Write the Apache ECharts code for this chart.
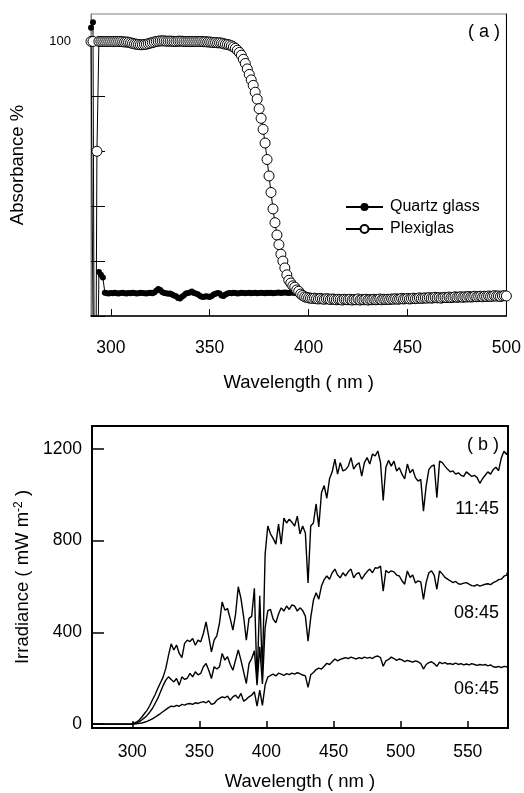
<!DOCTYPE html>
<html>
<head>
<meta charset="utf-8">
<script src="https://cdn.jsdelivr.net/npm/echarts@6.0.0/dist/echarts.min.js"></script>
<style>
  html, body { margin: 0; padding: 0; background: #fff; }
  #main { width: 524px; height: 793px; }
</style>
</head>
<body>
<div id="main"></div>
<script>
// panel (a): absorbance, 1 nm steps from 290 to 500
var wlA = [];
for (var w = 290; w <= 500; w++) wlA.push(w);

var quartz = [
  105, 107, -100, -100, 16, 15, 14, 8.5, 8.3, 8.2,
  8.4, 8.3, 8.5, 8.3, 8.2, 8.4, 8.5, 8.3, 8.2, 8.4,
  8.3, 8.5, 8.4, 8.2, 8.3, 8.5, 8.4, 8.3, 8.2, 8.4,
  8.5, 8.3, 8.6, 9.2, 9.8, 9.5, 8.7, 8.4, 8.3, 8.1,
  8.2, 7.8, 7.5, 7.2, 6.6, 6.4, 7.0, 7.6, 8.2, 8.4,
  8.6, 8.9, 8.4, 8.2, 7.9, 7.4, 7.0, 6.9, 7.2, 7.1,
  6.9, 7.3, 7.8, 8.1, 8.4, 8.2, 7.5, 7.3, 7.8, 8.2,
  8.4, 8.3, 8.5, 8.4, 8.2, 8.3, 8.5, 8.4, 8.3, 8.4,
  8.5, 8.3, 8.4, 8.5, 8.3, 8.4, 8.5, 8.4, 8.3, 8.5,
  8.4, 8.5, 8.3, 8.4, 8.5, 8.6, 8.4, 8.5, 8.6, 8.5,
  8.4, 8.5, 8.6, 8.4, 8.3, 8.2, 8.0, 7.6, 7.2, 7.0,
  6.8, 6.7, 6.5, 6.6, 6.4, 6.3, 6.5, 6.3, 6.2, 6.4,
  6.3, 6.1, 6.3, 6.2, 6.0, 6.2, 6.1, 5.9, 6.2, 6.1,
  6.0, 6.2, 5.9, 6.1, 6.0, 6.3, 5.9, 6.1, 6.0, 6.2,
  5.9, 6.1, 6.0, 6.2, 6.0, 6.1, 6.3, 6.0, 6.2, 6.1,
  6.2, 6.1, 6.3, 6.2, 6.4, 6.2, 6.3, 6.5, 6.3, 6.4,
  6.5, 6.3, 6.4, 6.6, 6.4, 6.5, 6.7, 6.5, 6.6, 6.7,
  6.6, 6.8, 6.6, 6.7, 6.9, 6.7, 6.8, 6.6, 6.8, 6.9,
  6.8, 7.0, 6.8, 6.9, 7.1, 6.9, 7.0, 7.1, 6.9, 7.1,
  7.0, 7.2, 7.0, 7.1, 7.3, 7.1, 7.2, 7.3, 7.1, 7.3,
  7.2, 7.4, 7.2, 7.3, 7.5, 7.3, 7.4, 7.2, 7.4, 7.5,
  7.4
];

var plexiglas = [
  100, 100, -100, 60, 100, 100, 100, 100, 100, 100,
  100, 100, 100, 100, 100, 100, 99.9, 99.8, 99.8, 99.7,
  99.5, 99.3, 99.1, 99, 98.9, 98.8, 98.8, 98.9, 99, 99.2,
  99.4, 99.6, 99.8, 100, 100.1, 100.2, 100.2, 100.2, 100.1, 100.1,
  100.1, 100.1, 100, 100, 100.1, 100.1, 100.1, 100, 100, 100,
  100, 100, 100, 100, 100, 100, 100, 99.9, 99.9, 99.8,
  99.8, 99.7, 99.6, 99.6, 99.5, 99.5, 99.4, 99.2, 99, 98.9,
  98.7, 98.4, 98, 97.5, 96.8, 96, 95, 93.5, 92, 90,
  88, 86, 84, 81.5, 79, 75.5, 72, 68, 63, 57,
  51, 45, 39, 34, 29.5, 26, 22.5, 20, 17.5, 15,
  13, 12, 11, 10.5, 9.5, 9, 8, 7.5, 7, 6.8,
  6.6, 6.5, 6.4, 6.5, 6.3, 6.2, 6.4, 6.2, 6.1, 6.3,
  6.2, 6.0, 6.2, 6.1, 5.9, 6.1, 6.0, 5.8, 6.1, 6.0,
  5.9, 6.1, 5.8, 6.0, 5.9, 6.2, 5.8, 6.0, 5.9, 6.1,
  5.8, 6.0, 5.9, 6.1, 5.9, 6.0, 6.2, 5.9, 6.1, 6.0,
  6.1, 6.0, 6.2, 6.1, 6.3, 6.1, 6.2, 6.4, 6.2, 6.3,
  6.4, 6.2, 6.3, 6.5, 6.3, 6.4, 6.6, 6.4, 6.5, 6.6,
  6.5, 6.7, 6.5, 6.6, 6.8, 6.6, 6.7, 6.5, 6.7, 6.8,
  6.7, 6.9, 6.7, 6.8, 7.0, 6.8, 6.9, 7.0, 6.8, 7.0,
  6.9, 7.1, 6.9, 7.0, 7.2, 7.0, 7.1, 7.2, 7.0, 7.2,
  7.1, 7.3, 7.1, 7.2, 7.4, 7.2, 7.3, 7.1, 7.3, 7.4,
  7.3
];

// panel (b): irradiance, 270 then every 2 nm from 299 to 579, then 580
var wlB = [270];
for (var v = 299; v <= 579; v += 2) wlB.push(v);
wlB.push(580);

var t1145 = [
  0,
  0, 3, 8, 17, 30, 45, 60, 80, 105, 128,
  155, 180, 205, 243, 300, 350, 323, 345, 308, 290,
  352, 366, 360, 373, 344, 366, 359, 395, 446, 381,
  315, 366, 385, 440, 533, 497, 504, 460, 410, 480,
  599, 548, 468, 366, 461, 470, 592, 180, 560, 230,
  740, 864, 830, 810, 785, 872, 785, 898, 877, 894,
  880, 864, 907, 829, 864, 833, 616, 864, 877, 960,
  860, 1009, 1040, 985, 1070, 1100, 1156, 1090, 1140, 1104,
  1110, 1125, 1162, 1112, 1130, 1140, 1082, 1140, 1162, 1134,
  1178, 1169, 1191, 1140, 975, 1120, 1150, 1125, 1147, 1104,
  1118, 1090, 1069, 1134, 1096, 1111, 1075, 1060, 1067, 929,
  1038, 1110, 1125, 1130, 987, 1147, 1140, 1125, 1111, 1100,
  1104, 1090, 1096, 1085, 1080, 1100, 1090, 1080, 1085, 1075,
  1050, 1070, 1085, 1100, 1090, 1110, 1120, 1105, 1160, 1190,
  1175, 1195
];

var t0845 = [
  0,
  0, 2, 5, 10, 18, 27, 38, 52, 68, 90,
  112, 140, 168, 192, 206, 195, 184, 199, 170, 206,
  195, 200, 221, 206, 228, 215, 221, 250, 264, 235,
  199, 250, 240, 250, 308, 279, 294, 260, 235, 280,
  323, 279, 228, 177, 264, 286, 320, 170, 337, 175,
  420, 495, 500, 458, 442, 480, 507, 493, 515, 500,
  520, 515, 493, 507, 495, 471, 362, 464, 540, 573,
  545, 602, 630, 646, 632, 660, 676, 650, 638, 660,
  646, 665, 676, 638, 655, 660, 632, 650, 665, 676,
  660, 682, 680, 689, 580, 670, 660, 668, 664, 650,
  646, 625, 610, 668, 640, 650, 615, 625, 620, 544,
  617, 660, 668, 650, 588, 668, 655, 640, 632, 625,
  617, 622, 612, 610, 615, 617, 610, 604, 602, 608,
  602, 606, 610, 612, 608, 617, 622, 630, 632, 645,
  650, 668
];

var t0645 = [
  0,
  0, 0, 1, 3, 5, 8, 12, 17, 23, 30,
  38, 46, 55, 63, 72, 78, 76, 82, 78, 86,
  83, 88, 90, 86, 93, 90, 95, 98, 93, 101,
  86, 90, 104, 112, 119, 115, 122, 104, 119, 126,
  112, 134, 100, 108, 119, 126, 141, 78, 148, 82,
  170, 205, 212, 218, 210, 222, 218, 212, 220, 216,
  222, 218, 224, 220, 214, 210, 160, 215, 225, 238,
  244, 240, 252, 265, 260, 272, 284, 276, 282, 286,
  290, 286, 292, 288, 284, 290, 286, 292, 288, 291,
  286, 294, 297, 290, 252, 276, 282, 292, 286, 278,
  284, 280, 272, 278, 274, 270, 276, 272, 264, 240,
  260, 268, 272, 264, 252, 270, 264, 268, 262, 264,
  260, 266, 260, 264, 258, 262, 258, 264, 260, 256,
  260, 257, 260, 254, 258, 250, 248, 252, 246, 252,
  250, 252
];

var ticksA = [300, 350, 400, 450, 500];
var ticksAy = [0, 20, 40, 60, 80, 100];
var ticksB = [300, 350, 400, 450, 500, 550];
var ticksBy = [0, 400, 800, 1200];

function pairs(xs, ys) {
  return xs.map(function (x, i) { return [x, ys[i]]; });
}
function plain(val) { return String(val); }

var font = 'Liberation Sans, Arial, sans-serif';
var chart = echarts.init(document.getElementById('main'));

chart.setOption({
  animation: false,
  backgroundColor: '#fff',
  textStyle: { fontFamily: font, color: '#000' },
  grid: [
    { left: 91, top: 14, width: 416, height: 302, show: true, borderColor: '#808080', borderWidth: 1 },
    { left: 92, top: 426, width: 416, height: 302, show: true, borderColor: '#000', borderWidth: 2 }
  ],
  legend: {
    data: ['Quartz glass', 'Plexiglas'],
    orient: 'vertical',
    left: 340,
    top: 194,
    itemWidth: 37,
    itemHeight: 10,
    itemGap: 6,
    textStyle: { fontSize: 16, color: '#000', fontFamily: font, padding: [0, 0, 0, 2] }
  },
  xAxis: [
    {
      gridIndex: 0, type: 'value', min: 290, max: 500,
      name: 'Wavelength ( nm )', nameLocation: 'middle', nameGap: 57,
      nameTextStyle: { fontSize: 18.5, color: '#000' },
      axisLine: { onZero: false, lineStyle: { color: '#000', width: 1.5 } },
      axisTick: { inside: true, length: 7, customValues: ticksA, lineStyle: { color: '#000' } },
      axisLabel: { customValues: ticksA, formatter: plain, fontSize: 17.5, color: '#000', margin: 23 },
      splitLine: { show: false }
    },
    {
      gridIndex: 1, type: 'value', min: 270, max: 580,
      name: 'Wavelength ( nm )', nameLocation: 'middle', nameGap: 44,
      nameTextStyle: { fontSize: 18.5, color: '#000' },
      axisLine: { onZero: false, lineStyle: { color: '#000', width: 2 } },
      axisTick: { inside: true, length: 7, customValues: ticksB, lineStyle: { color: '#000', width: 1.5 } },
      axisLabel: { customValues: ticksB, formatter: plain, fontSize: 17.5, color: '#000', margin: 15 },
      splitLine: { show: false }
    }
  ],
  yAxis: [
    {
      gridIndex: 0, type: 'value', min: 0, max: 110,
      name: 'Absorbance %', nameLocation: 'middle', nameGap: 64,
      nameTextStyle: { fontSize: 18.5, color: '#000' },
      axisLine: { onZero: false, lineStyle: { color: '#808080', width: 1 } },
      axisTick: { inside: true, length: 14, customValues: ticksAy, lineStyle: { color: '#000' } },
      axisLabel: { customValues: [100], formatter: plain, fontSize: 13, color: '#000', margin: 20 },
      splitLine: { show: false }
    },
    {
      gridIndex: 0, type: 'value', min: 0, max: 110, position: 'right',
      axisLine: { onZero: false, lineStyle: { color: '#000', width: 1 } },
      axisTick: { show: false }, axisLabel: { show: false }, splitLine: { show: false }
    },
    {
      gridIndex: 1, type: 'value', min: -17, max: 1300,
      name: '{n|Irradiance ( mW m}{s|-2}{n| )}', nameLocation: 'middle', nameGap: 60,
      nameTextStyle: {
        rich: {
          n: { fontSize: 18.5, color: '#000', fontFamily: font },
          s: { fontSize: 12, color: '#000', fontFamily: font, verticalAlign: 'top' }
        }
      },
      axisLine: { onZero: false, lineStyle: { color: '#000', width: 2 } },
      axisTick: { inside: true, length: 12, customValues: ticksBy, lineStyle: { color: '#000', width: 1.5 } },
      axisLabel: { customValues: ticksBy, formatter: plain, fontSize: 17.5, color: '#000', margin: 10 },
      splitLine: { show: false }
    }
  ],
  series: [
    {
      name: 'Quartz glass', type: 'line', xAxisIndex: 0, yAxisIndex: 0,
      data: pairs(wlA, quartz),
      symbol: 'circle', symbolSize: 6, showAllSymbol: true,
      itemStyle: { color: '#000' },
      lineStyle: { color: '#000', width: 1 }
    },
    {
      name: 'Plexiglas', type: 'line', xAxisIndex: 0, yAxisIndex: 0,
      data: pairs(wlA, plexiglas),
      symbol: 'circle', symbolSize: 10, showAllSymbol: true,
      itemStyle: { color: '#fff', borderColor: '#000', borderWidth: 1 },
      lineStyle: { color: '#000', width: 1 }
    },
    {
      name: '11:45', type: 'line', xAxisIndex: 1, yAxisIndex: 2,
      data: pairs(wlB, t1145), showSymbol: false,
      lineStyle: { color: '#000', width: 1.4 }
    },
    {
      name: '08:45', type: 'line', xAxisIndex: 1, yAxisIndex: 2,
      data: pairs(wlB, t0845), showSymbol: false,
      lineStyle: { color: '#000', width: 1.4 }
    },
    {
      name: '06:45', type: 'line', xAxisIndex: 1, yAxisIndex: 2,
      data: pairs(wlB, t0645), showSymbol: false,
      lineStyle: { color: '#000', width: 1.4 }
    }
  ],
  graphic: [
    { type: 'text', x: 500, y: 32, style: { text: '( a )', fontSize: 18, fontFamily: font, fill: '#000', align: 'right', verticalAlign: 'middle' } },
    { type: 'text', x: 499, y: 445, style: { text: '( b )', fontSize: 18, fontFamily: font, fill: '#000', align: 'right', verticalAlign: 'middle' } },
    { type: 'text', x: 499, y: 509, style: { text: '11:45', fontSize: 18, fontFamily: font, fill: '#000', align: 'right', verticalAlign: 'middle' } },
    { type: 'text', x: 499, y: 613, style: { text: '08:45', fontSize: 18, fontFamily: font, fill: '#000', align: 'right', verticalAlign: 'middle' } },
    { type: 'text', x: 499, y: 689, style: { text: '06:45', fontSize: 18, fontFamily: font, fill: '#000', align: 'right', verticalAlign: 'middle' } }
  ]
});
</script>
</body>
</html>
